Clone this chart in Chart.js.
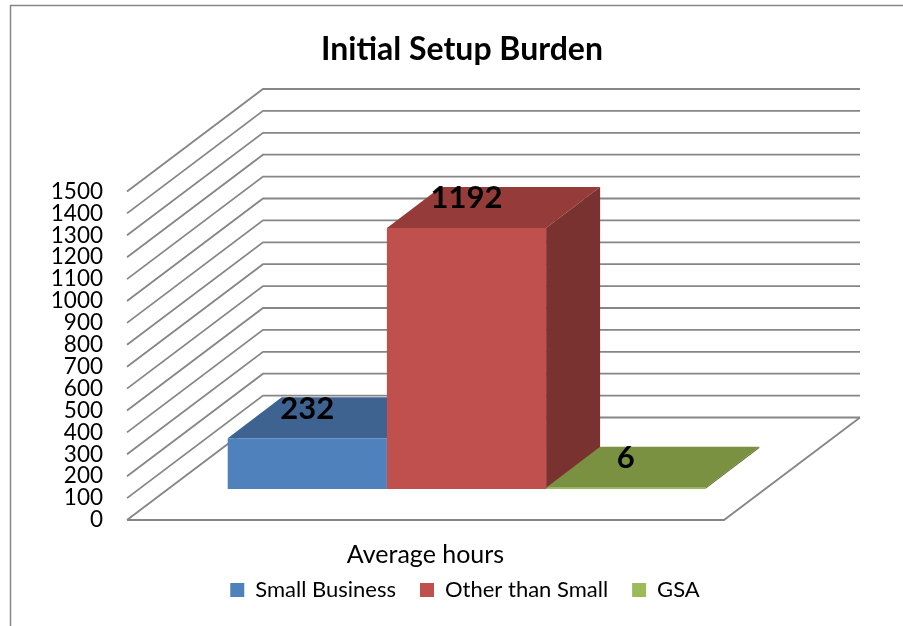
<!DOCTYPE html>
<html>
<head>
<meta charset="utf-8">
<title>Initial Setup Burden</title>
<script src="https://cdn.jsdelivr.net/npm/chart.js@4"></script>
<style>
  html, body { margin: 0; padding: 0; background: #fff; }
  canvas { display: block; }
</style>
</head>
<body>
<canvas id="burden" width="903" height="626"></canvas>
<script>
const categories = ["Average hours"];
const seriesNames = ["Small Business", "Other than Small", "GSA"];
const smallBusiness = [232];
const otherThanSmall = [1192];
const gsa = [6];

const frontColors = ["#4F81BD", "#C0504D", "#9BBB59"];
const topColors = ["#3E6391", "#953C3A", "#7A9142"];
const sideColors = ["#2F4B6E", "#7A3230", "#5D6E32"];

const GRID = "#868686";
const FONT = "Lato, Carlito, sans-serif";

// depth of the fake 3D box, and where the bars stand inside it
const WALL = { dx: 136, dy: 102.5 };
const BAR_SHIFT = { dx: 41, dy: 31 };
const BAR_DEPTH = { dx: 54, dy: 41 };

function line(ctx, pts) {
  ctx.beginPath();
  pts.forEach((p, i) => i ? ctx.lineTo(p[0], p[1]) : ctx.moveTo(p[0], p[1]));
  ctx.stroke();
}

function face(ctx, pts, color) {
  ctx.fillStyle = color;
  ctx.beginPath();
  pts.forEach((p, i) => i ? ctx.lineTo(p[0], p[1]) : ctx.moveTo(p[0], p[1]));
  ctx.closePath();
  ctx.fill();
}

const frame3d = {
  id: "frame3d",
  afterLayout(chart) {
    // the right padding pushes title and legend left, put them back
    chart.titleBlock.left += 100;
    chart.titleBlock.right += 100;
    chart.legend.left += 103;
    chart.legend.right += 103;
    // axis label hangs below its fitted box, don't let it get clipped
    chart.scales.x.bottom += 25;
  },
  beforeDraw(chart) {
    const ctx = chart.ctx;
    ctx.save();
    ctx.strokeStyle = GRID;
    ctx.lineWidth = 1.5;
    line(ctx, [[10.5, 626], [10.5, 5.5], [903, 5.5]]);
    ctx.restore();
  },
  beforeDatasetsDraw(chart) {
    const ctx = chart.ctx;
    const { left, right } = chart.chartArea;
    const y = chart.scales.y;

    // walls
    ctx.save();
    ctx.strokeStyle = GRID;
    ctx.lineWidth = 1.8;
    y.ticks.forEach(t => {
      const py = y.getPixelForValue(t.value);
      line(ctx, [[left, py], [left + WALL.dx, py - WALL.dy], [right + WALL.dx, py - WALL.dy]]);
    });
    // floor
    const y0 = y.getPixelForValue(0);
    line(ctx, [[left, y0], [right, y0], [right + WALL.dx, y0 - WALL.dy]]);
    ctx.restore();

    // everything of the bars is drawn on the shifted plane
    ctx.save();
    ctx.translate(BAR_SHIFT.dx, -BAR_SHIFT.dy);
    chart.data.datasets.forEach((ds, i) => {
      const bar = chart.getDatasetMeta(i).data[0];
      const l = bar.x - bar.width / 2;
      const r = bar.x + bar.width / 2;
      face(ctx, [[l, bar.y], [r, bar.y], [r + BAR_DEPTH.dx, bar.y - BAR_DEPTH.dy], [l + BAR_DEPTH.dx, bar.y - BAR_DEPTH.dy]], topColors[i]);
      face(ctx, [[r, bar.y], [r, bar.base], [r + BAR_DEPTH.dx, bar.base - BAR_DEPTH.dy], [r + BAR_DEPTH.dx, bar.y - BAR_DEPTH.dy]], sideColors[i]);
    });
  },
  afterDatasetsDraw(chart) {
    const ctx = chart.ctx;
    ctx.fillStyle = "#000";
    ctx.font = "bold 31px " + FONT;
    ctx.textAlign = "center";
    ctx.textBaseline = "middle";
    chart.data.datasets.forEach((ds, i) => {
      const bar = chart.getDatasetMeta(i).data[0];
      ctx.fillText(ds.data[0], bar.x, bar.y - BAR_DEPTH.dy * 0.72);
    });
    ctx.restore();
  }
};

new Chart(document.getElementById("burden"), {
  type: "bar",
  data: {
    labels: categories,
    datasets: [
      { label: seriesNames[0], data: smallBusiness, backgroundColor: frontColors[0] },
      { label: seriesNames[1], data: otherThanSmall, backgroundColor: frontColors[1] },
      { label: seriesNames[2], data: gsa, backgroundColor: frontColors[2] }
    ]
  },
  options: {
    responsive: false,
    animation: false,
    barPercentage: 1,
    categoryPercentage: 0.8,
    layout: { padding: { left: 0, right: 179, top: 30.6, bottom: 15 } },
    plugins: {
      tooltip: { enabled: false },
      title: {
        display: true,
        text: "Initial Setup Burden",
        color: "#000",
        font: { family: FONT, size: 32, weight: "bold" },
        padding: { top: 0, bottom: 122.5 }
      },
      legend: {
        position: "bottom",
        labels: {
          color: "#000",
          font: { family: FONT, size: 22 },
          boxWidth: 14,
          boxHeight: 14,
          padding: 24
        }
      }
    },
    scales: {
      x: {
        afterFit(scale) { scale.height = 35; },
        grid: { display: false, drawTicks: false },
        border: { display: false },
        ticks: { color: "#000", font: { family: FONT, size: 25 }, padding: 20 }
      },
      y: {
        min: 0,
        max: 1500,
        afterFit(scale) { scale.width = 127; },
        grid: { display: false, drawTicks: false },
        border: { display: false },
        ticks: {
          stepSize: 100,
          autoSkip: false,
          callback: v => String(v),
          color: "#000",
          font: { family: FONT, size: 22.5 },
          padding: 24
        }
      }
    }
  },
  plugins: [frame3d]
});
</script>
</body>
</html>
